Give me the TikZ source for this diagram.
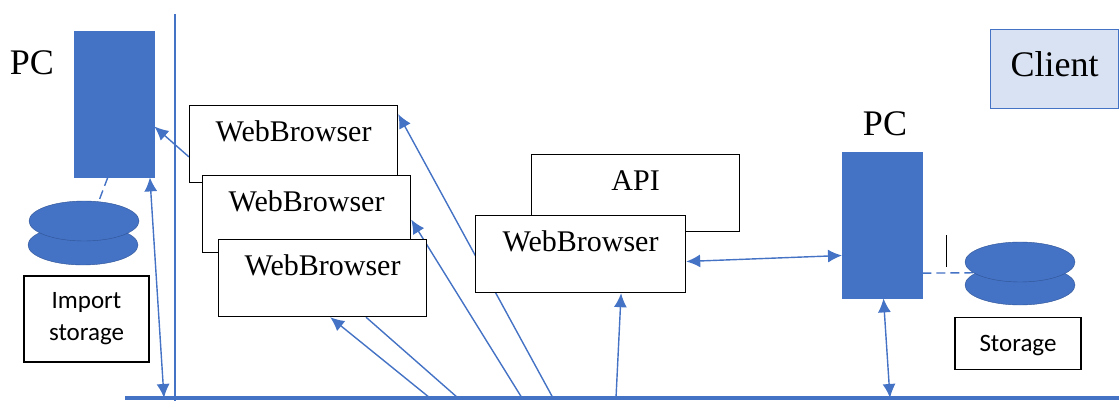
\documentclass[tikz,border=0pt]{standalone}
\usepackage{fontspec}
\setmainfont{Liberation Serif}
\newfontfamily\notefont{Carlito}
\usetikzlibrary{arrows.meta, shapes.geometric, backgrounds}
\definecolor{linkblue}{HTML}{4472C4}
\definecolor{clientblue}{HTML}{D9E2F3}
\definecolor{edgeblue}{HTML}{2F5597}
\tikzset{
	appbox/.style={draw=black, line width=1.2pt, fill=white, anchor=north west, inner sep=0pt, minimum width=208pt, text height=36pt, text depth=41pt, font=\fontsize{30}{32}\selectfont},
	notebox/.style={draw=black, line width=1.2pt, fill=white, inner sep=0pt, align=center, font=\notefont\fontsize{25}{32}\selectfont},
	pcbox/.style={draw=linkblue, fill=linkblue, anchor=north west, inner sep=0pt, minimum width=80pt, minimum height=146pt},
	diskshape/.style={ellipse, draw=edgeblue, line width=0.4pt, fill=linkblue, inner sep=0pt, minimum width=110pt, minimum height=40pt},
	pclabel/.style={inner sep=0pt, font=\fontsize{36}{38}\selectfont},
	link/.style={draw=linkblue, line width=1.4pt, -{Latex[length=14pt,width=13pt]}},
	duplex/.style={draw=linkblue, line width=1.4pt, {Latex[length=14pt,width=13pt]}-{Latex[length=14pt,width=13pt]}},
	dashlink/.style={draw=linkblue, line width=1.4pt, dashed, dash pattern=on 9pt off 5pt}
}

\begin{document}
\begin{tikzpicture}[x=1pt, y=-1pt]
	\useasboundingbox (0,0) rectangle (1119,401);

	\node (pcA)[pcbox] at (74, 31) {};
	\node (pcAlabel)[pclabel] at (32, 63) {PC};
	\node (diskAb)[diskshape] at (83, 245) {};
	\node (diskAt)[diskshape] at (84, 221) {};
	\node (importbox)[notebox, minimum width=125pt, minimum height=86pt] at (86.5, 319) {Import\\storage};

	\node (wb1)[appbox] at (189, 105) {WebBrowser};
	\node (wb2)[appbox] at (202, 175) {WebBrowser};
	\node (wb3)[appbox] at (218, 239) {WebBrowser};

	\node (api)[appbox] at (531, 154) {API};
	\node (wb4)[appbox, minimum width=210pt] at (475, 215) {WebBrowser};

	\node (pcB)[pcbox] at (842, 152) {};
	\node (pcBlabel)[pclabel] at (885, 124) {PC};
	\node (diskBb)[diskshape] at (1020, 285) {};
	\node (diskBt)[diskshape] at (1020, 262) {};
	\node (storagebox)[notebox, anchor=north, minimum width=126pt, text height=33.5pt, text depth=18.5pt] at (1018, 317) {Storage};

	\node (client)[draw=linkblue, line width=1.2pt, fill=clientblue, anchor=north west, inner sep=0pt, minimum width=128pt, text height=47pt, text depth=32pt, font=\fontsize{36}{38}\selectfont] at (990, 29) {Client};

	\coordinate (busL) at (125, 398);
	\coordinate (busR) at (1119, 398);
	\coordinate (wallT) at (175, 14);
	\coordinate (wallB) at (175, 401);
	\coordinate (tickT) at (946, 235);
	\coordinate (tickB) at (946, 267);
	\coordinate (portA) at (164, 398);
	\coordinate (port1) at (553, 398);
	\coordinate (port2) at (522, 398);
	\coordinate (port3) at (430, 398);
	\coordinate (port4) at (458, 398);
	\coordinate (port5) at (616, 398);
	\coordinate (portB) at (890, 398);

	\begin{scope}[on background layer]
		\draw[link] (port1) -- (wb1.16.3);
		\draw[link] (port2) -- (wb2.-3.8);
		\draw[link] (port3) -- (wb3.-79.8);
		\draw[draw=linkblue, line width=1.4pt] (port4) -- (wb3.-42.2);
		\draw[link] (port5) -- (wb4.-44.3);
		\draw[duplex] (wb4.-4.9) -- (pcB.217.4);
		\draw[duplex] (pcB.-89.6) -- (portB);
		\draw[duplex] (pcA.-64.7) -- (portA);
		\draw[link] (wb1.187.4) -- (pcA.-29.6);
		\draw[dashlink] (pcA.-95) -- (diskAt.53);
		\draw[dashlink] (pcB.-50.4) -- (diskBt.193.5);
	\end{scope}

	\draw[draw=linkblue, line width=1.4pt] (wallT) -- (wallB);
	\draw[draw=linkblue, line width=4pt] (busL) -- (busR);
	\draw[line width=1pt] (tickT) -- (tickB);
\end{tikzpicture}
\end{document}
